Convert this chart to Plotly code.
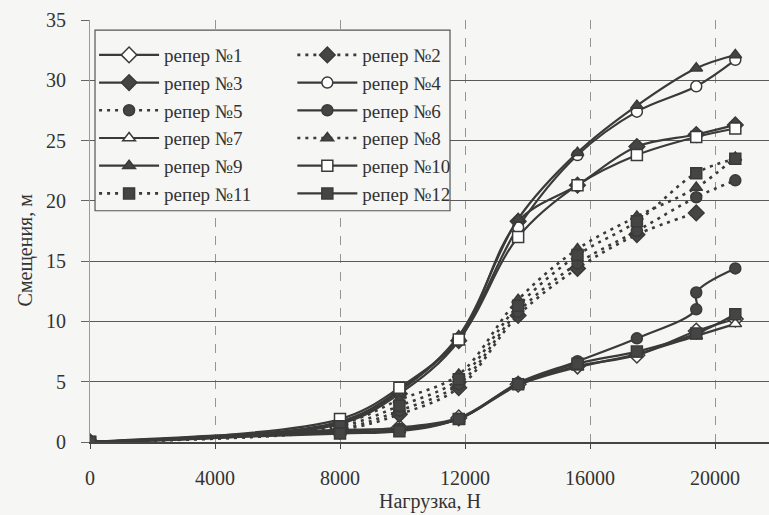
import plotly.graph_objects as go

# Loads (N) at which displacements were measured
LOADS = [0, 8000, 9900, 11800, 13700, 15600, 17500, 19400, 20650]
LOADS_6 = [0, 8000, 9900, 11800, 13700, 15600, 17500, 19400, 19400, 20650]

# Displacements (m) per benchmark
s1 = [0, 0.9, 1.2, 2.0, 4.8, 6.3, 7.2, 9.2, 10.2]
s2 = [0, 1.0, 2.3, 4.5, 10.5, 14.4, 17.2, 19.0, None]
s3 = [0, 1.5, 4.0, 8.4, 18.3, 21.3, 24.5, 25.5, 26.3]
s4 = [0, 1.7, 4.3, 8.6, 17.8, 23.8, 27.4, 29.5, 31.7]
s5 = [0, 1.1, 2.6, 4.8, 10.8, 14.8, 17.5, 20.3, 21.7]
s6 = [0, 1.0, 1.1, 1.9, 4.9, 6.7, 8.6, 11.0, 12.4, 14.4]
s7 = [0, 0.8, 1.0, 1.9, 4.7, 6.2, 7.3, 8.8, 9.8]
s8 = [0, 1.5, 3.5, 5.6, 11.8, 16.0, 18.7, 21.1, 23.6]
s9 = [0, 1.6, 4.2, 8.8, 18.5, 24.0, 27.9, 31.0, 32.1]
s10 = [0, 1.9, 4.5, 8.5, 17.0, 21.3, 23.8, 25.3, 26.0]
s11 = [0, 1.3, 3.0, 5.2, 11.3, 15.5, 18.3, 22.3, 23.5]
s12 = [0, 0.7, 0.9, 1.9, 4.8, 6.5, 7.5, 9.0, 10.6]

NAMES = ["репер №1", "репер №2", "репер №3", "репер №4", "репер №5", "репер №6",
         "репер №7", "репер №8", "репер №9", "репер №10", "репер №11", "репер №12"]

X_TICKS = [0, 4000, 8000, 12000, 16000, 20000]
Y_TICKS = [0, 5, 10, 15, 20, 25, 30, 35]

DARK = "#3a3a3a"
BG = "#f6f6f4"

series = [
    (LOADS, s1, "diamond", False, False),
    (LOADS, s2, "diamond", True, True),
    (LOADS, s3, "diamond", True, False),
    (LOADS, s4, "circle", False, False),
    (LOADS, s5, "circle", True, True),
    (LOADS_6, s6, "circle", True, False),
    (LOADS, s7, "triangle-up", False, False),
    (LOADS, s8, "triangle-up", True, True),
    (LOADS, s9, "triangle-up", True, False),
    (LOADS, s10, "square", False, False),
    (LOADS, s11, "square", True, True),
    (LOADS, s12, "square", True, False),
]

fig = go.Figure()
for i, (xs, ys, sym, filled, dashed) in enumerate(series):
    fig.add_trace(go.Scatter(
        x=xs, y=ys, name=NAMES[i], mode="lines+markers",
        line=dict(color=DARK, width=2.2 if not dashed else 2.6,
                  dash="3px,5px" if dashed else "solid", shape="spline", smoothing=1),
        marker=dict(symbol=sym, size=11 if sym != "diamond" else 12,
                    color=("#454545" if filled else "white"),
                    line=dict(color=DARK, width=1.5)),
        legend="legend" if i % 2 == 0 else "legend2",
        connectgaps=False,
    ))

font_main = dict(family="Liberation Serif, Times New Roman, serif", size=20, color="#333")
font_leg = dict(family="Liberation Serif, Times New Roman, serif", size=19, color="#333")

fig.update_layout(
    width=769, height=515,
    margin=dict(l=90, r=0, t=20, b=73),
    paper_bgcolor=BG, plot_bgcolor=BG,
    font=font_main,
    xaxis=dict(range=[0, 21728], tickvals=X_TICKS, ticktext=[str(v) for v in X_TICKS],
               showgrid=True, gridcolor="#959595", griddash="dash", gridwidth=1,
               showline=True, linecolor="#444", linewidth=1.5,
               ticks="outside", ticklen=5, tickcolor="#444",
               ticklabelstandoff=12, zeroline=False, tickfont=font_main,
               automargin=False),
    yaxis=dict(range=[0, 35], tickvals=Y_TICKS,
               showgrid=True, gridcolor="#5a5a5a", gridwidth=1.2,
               showline=True, linecolor="#9a9a9a", linewidth=1,
               ticks="outside", ticklen=8, tickcolor="#666",
               ticklabelstandoff=11, zeroline=False, tickfont=font_main,
               automargin=False),
    legend=dict(x=0.006, y=0.962, xanchor="left", yanchor="top",
                bgcolor="rgba(0,0,0,0)", borderwidth=0,
                font=font_leg, itemwidth=60, tracegroupgap=0),
    legend2=dict(x=0.298, y=0.962, xanchor="left", yanchor="top",
                 bgcolor="rgba(0,0,0,0)", borderwidth=0,
                 font=font_leg, itemwidth=60, tracegroupgap=0),
    shapes=[dict(type="rect", xref="paper", yref="paper",
                 x0=0.0074, x1=0.5302, y0=0.548, y1=0.976,
                 fillcolor=BG, line=dict(color="#555", width=1.2), layer="above")],
    annotations=[
        dict(text="Смещения, м", xref="paper", yref="paper", x=-0.0957, y=0.454,
             xanchor="center", yanchor="middle",
             textangle=-90, showarrow=False, font=font_main),
        dict(text="Нагрузка, Н", xref="paper", yref="paper", x=0.5, y=-0.142,
             xanchor="center", yanchor="middle",
             showarrow=False, font=font_main),
    ],
)

fig.write_html("out.html", config={"displayModeBar": False},
               post_script="document.body.style.margin='0';document.body.style.overflow='hidden';")
